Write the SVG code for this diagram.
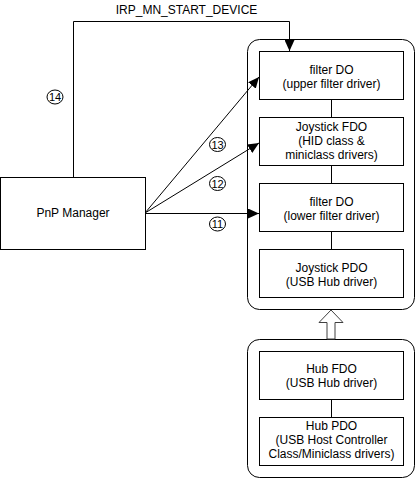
<svg xmlns="http://www.w3.org/2000/svg" width="416" height="478" viewBox="0 0 416 478">
<style>
.box{fill:#fff;stroke:#000;stroke-width:1}
.cont{fill:#fff;stroke:#000;stroke-width:1}
.t{font-family:"Liberation Sans",Arial,sans-serif;font-size:12px;fill:#000;text-anchor:middle}
.n{font-family:"Liberation Sans",Arial,sans-serif;font-size:11px;fill:#000;text-anchor:middle}
.c{fill:#fff;stroke:#000;stroke-width:1}
.ln{fill:none;stroke:#000;stroke-width:1}
</style>
<defs>
<marker id="ah" markerUnits="userSpaceOnUse" markerWidth="12" markerHeight="10" refX="11" refY="5" orient="auto">
<path d="M0,0 L11,5 L0,10 Z" fill="#000"/>
</marker>
</defs>
<rect width="416" height="478" fill="#fff"/>
<g id="upper-stack">
<rect class="cont" x="247.5" y="39.5" width="167" height="270" rx="12"/>
</g>
<g id="lower-stack">
<rect class="cont" x="247.5" y="339.5" width="167" height="138" rx="12"/>
</g>
<g id="connectors">
<line class="ln" x1="331.5" y1="99" x2="331.5" y2="117"/>
<line class="ln" x1="331.5" y1="165" x2="331.5" y2="183"/>
<line class="ln" x1="331.5" y1="231" x2="331.5" y2="249"/>
<line class="ln" x1="331.5" y1="399" x2="331.5" y2="417"/>
<path class="ln" d="M73.5,177 V21.5 H289.5 V51" marker-end="url(#ah)"/>
<line class="ln" x1="145" y1="213" x2="259" y2="77" marker-end="url(#ah)"/>
<line class="ln" x1="145" y1="213" x2="259" y2="143" marker-end="url(#ah)"/>
<line class="ln" x1="145" y1="213.5" x2="259" y2="213.5" marker-end="url(#ah)"/>
<path d="M331,310 L343,322.5 L335,322.5 L335,339 L327,339 L327,322.5 L319,322.5 Z" fill="#fff" stroke="#404040" stroke-width="1"/>
<text class="t" x="186.5" y="13.5">IRP_MN_START_DEVICE</text>
<ellipse class="c" cx="55" cy="97" rx="8" ry="7"/>
<text class="n" x="55" y="101">14</text>
<ellipse class="c" cx="217.5" cy="144.5" rx="8" ry="7"/>
<text class="n" x="217.5" y="148.5">13</text>
<ellipse class="c" cx="217.5" cy="183.5" rx="8" ry="7"/>
<text class="n" x="217.5" y="187.5">12</text>
<ellipse class="c" cx="217.5" cy="224" rx="8" ry="7"/>
<text class="n" x="217.5" y="228">11</text>
</g>
<g id="pnp">
<rect class="box" x="0.5" y="177.5" width="145" height="72"/>
<text class="t" x="73" y="217">PnP Manager</text>
</g>
<g id="filter-upper">
<rect class="box" x="259.5" y="51.5" width="144" height="48"/>
<text class="t" x="331.5" y="74">filter DO</text>
<text class="t" x="331.5" y="87.5">(upper filter driver)</text>
</g>
<g id="joystick-fdo">
<rect class="box" x="259.5" y="117.5" width="144" height="48"/>
<text class="t" x="331.5" y="130.7">Joystick FDO</text>
<text class="t" x="331.5" y="145">(HID class &amp;</text>
<text class="t" x="331.5" y="159.3">miniclass drivers)</text>
</g>
<g id="filter-lower">
<rect class="box" x="259.5" y="183.5" width="144" height="48"/>
<text class="t" x="331.5" y="206">filter DO</text>
<text class="t" x="331.5" y="219.5">(lower filter driver)</text>
</g>
<g id="joystick-pdo">
<rect class="box" x="259.5" y="249.5" width="144" height="48"/>
<text class="t" x="331.5" y="272">Joystick PDO</text>
<text class="t" x="331.5" y="285.5">(USB Hub driver)</text>
</g>
<g id="hub-fdo">
<rect class="box" x="259.5" y="351.5" width="144" height="48"/>
<text class="t" x="331.5" y="373">Hub FDO</text>
<text class="t" x="331.5" y="386.5">(USB Hub driver)</text>
</g>
<g id="hub-pdo">
<rect class="box" x="259.5" y="417.5" width="144" height="48"/>
<text class="t" x="331.5" y="429.5">Hub PDO</text>
<text class="t" x="331.5" y="444">(USB Host Controller</text>
<text class="t" x="331.5" y="458">Class/Miniclass drivers)</text>
</g>
</svg>
